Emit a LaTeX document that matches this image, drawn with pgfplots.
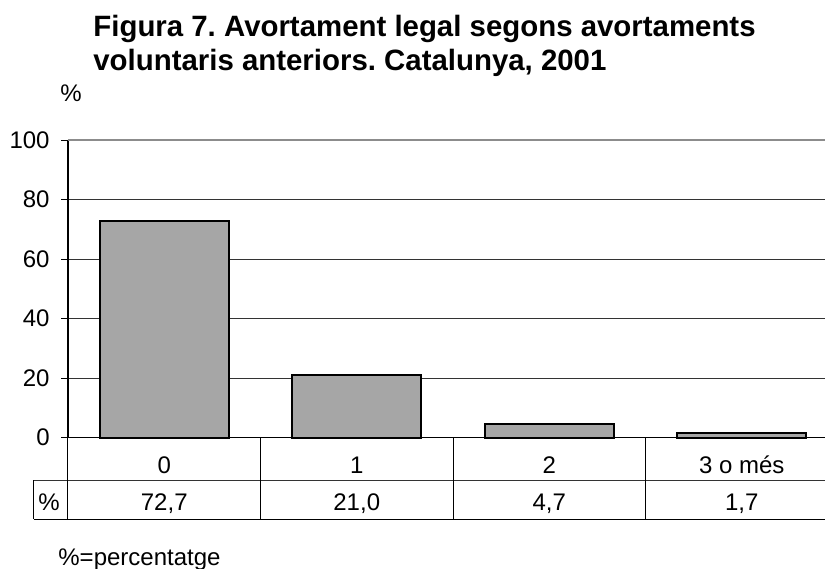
\documentclass[border=0pt]{standalone}
\usepackage{fontspec}
\setmainfont{Liberation Sans}
\usepackage{pgfplots}
\pgfplotsset{compat=1.18}
\usepackage{pgfplotstable}
\frenchspacing

% abortions by number of previous voluntary abortions (%)
\pgfplotstableread{
x v
0 72.7
1 21.0
2 4.7
3 1.7
}\avortdata

\begin{document}
\begin{tikzpicture}[font=\fontsize{12}{14}\selectfont]
\begin{axis}[
    at={(0,0)}, anchor=south west,
    scale only axis, width=385pt, height=148.85pt,
    xmin=-0.5, xmax=3.5, ymin=0, ymax=100,
    axis x line*=bottom, axis y line*=left,
    axis line style={-, black, line width=0.7pt},
    xtick={0,1,2,3}, xticklabels={0,1,2,3 o més},
    xtick style={draw=none},
    xticklabel style={anchor=base, inner sep=0pt, yshift=-14.5pt},
    ytick={0,20,...,100},
    tick align=outside, major tick length=3.5pt,
    ytick style={black, line width=0.5pt},
    yticklabel style={anchor=east, inner sep=0pt, xshift=-5.5pt},
    ymajorgrids, grid style={black!80, line width=0.5pt},
    /pgf/number format/assume math mode=true,
    clip=false,
]
\addplot[ybar, bar width=64.5pt, fill=black!35, draw=black, line width=1pt]
    table[x=x, y=v] {\avortdata};
% value row of the data table
\addplot[draw=none, mark=none, point meta=\thisrow{v},
    nodes near coords={\pgfmathprintnumber[fixed, fixed zerofill, precision=1, use comma, assume math mode=true]{\pgfplotspointmeta}},
    every node near coord/.append style={anchor=base, inner sep=0pt, yshift=-36.15pt}]
    table[x=x, y expr=0] {\avortdata};
\draw[black!45, line width=1.2pt] (axis cs:-0.5,100) -- (axis cs:3.5,100);
\end{axis}

% data table lines
\draw[black!80, line width=0.5pt] (-17pt,-21.15pt) -- (385pt,-21.15pt);
\draw[black, line width=0.5pt] (-17pt,-40.8pt) -- (385pt,-40.8pt);
\draw[black, line width=0.5pt] (-17pt,-21.15pt) -- (-17pt,-40.8pt);
\foreach \k in {0,96.25,192.5,288.75}
    \draw[black, line width=0.5pt] (\k pt,0) -- (\k pt,-40.8pt);
\node[anchor=base, inner sep=0pt] at (-9.5pt,-36.15pt) {\%};

% titles and notes
\node[anchor=base west, inner sep=0pt, font=\bfseries\fontsize{14.7}{17}\selectfont]
    at (12.5pt,200.35pt) {Figura 7. Avortament legal segons avortaments};
\node[anchor=base west, inner sep=0pt, font=\bfseries\fontsize{14.7}{17}\selectfont]
    at (12.5pt,183.35pt) {voluntaris anteriors. Catalunya, 2001};
\node[anchor=base west, inner sep=0pt] at (-4pt,167.85pt) {\%};
\node[anchor=base west, inner sep=0pt] at (-5pt,-63.9pt) {\%=percentatge};

\pgfresetboundingbox
\path (-34pt,-65.15pt) rectangle (378.5pt,218.85pt);
\end{tikzpicture}
\end{document}
